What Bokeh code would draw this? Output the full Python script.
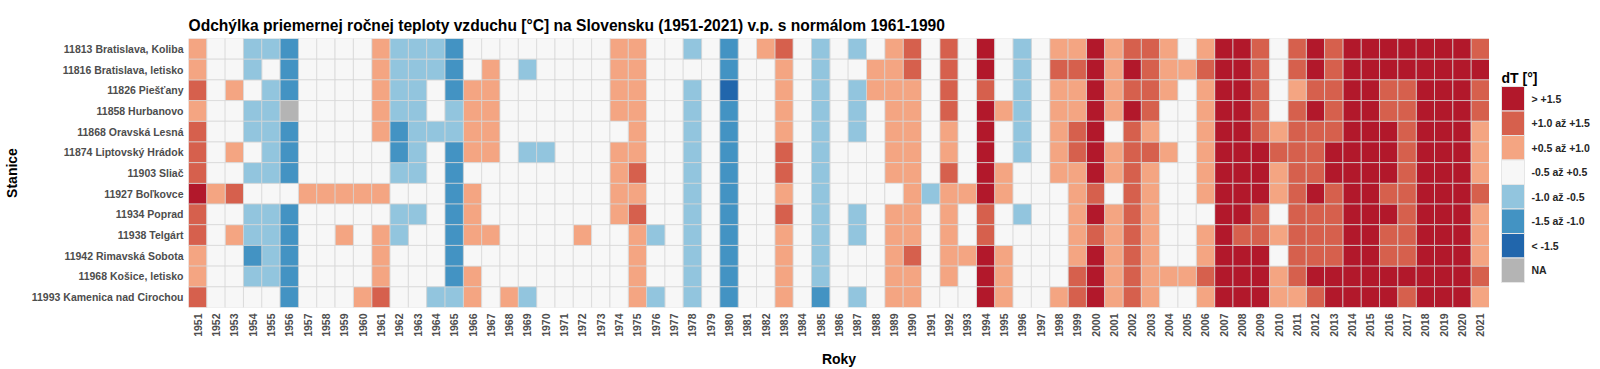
import math
from bokeh.plotting import figure
from bokeh.layouts import row
from bokeh.models import ColumnDataSource, FactorRange, Range1d
from bokeh.core.properties import value
from bokeh.embed import file_html
from bokeh.resources import INLINE

# ---------------- data ----------------
years = [str(y) for y in range(1951, 2022)]

stations = [
    "11813 Bratislava, Koliba",
    "11816 Bratislava, letisko",
    "11826 Piešťany",
    "11858 Hurbanovo",
    "11868 Oravská Lesná",
    "11874 Liptovský Hrádok",
    "11903 Sliač",
    "11927 Boľkovce",
    "11934 Poprad",
    "11938 Telgárt",
    "11942 Rimavská Sobota",
    "11968 Košice, letisko",
    "11993 Kamenica nad Cirochou",
]

# class codes per year 1951..2021: 3 '> +1.5', 2 '+1.0..+1.5', 1 '+0.5..+1.0',
# 0 '-0.5..+0.5', -1 '-1.0..-0.5', -2 '-1.5..-1.0', -3 '< -1.5', None = NA
N = None
bratislava_koliba = [1, 0, 0, -1, -1, -2, 0, 0, 0, 0,
                     1, -1, -1, -1, -2, 0, 0, 0, 0, 0,
                     0, 0, 0, 1, 1, 0, 0, -1, 0, -2,
                     0, 1, 2, 0, -1, 0, -1, 0, 1, 2,
                     0, 2, 0, 3, 0, -1, 0, 1, 1, 3,
                     1, 2, 2, 1, 0, 1, 3, 3, 2, 0,
                     2, 3, 2, 3, 3, 3, 3, 3, 3, 3, 2]
bratislava_letisko = [1, 0, 0, -1, 0, -2, 0, 0, 0, 0,
                      1, -1, -1, -1, -2, 0, 1, 0, -1, 0,
                      0, 0, 0, 1, 1, 0, 0, 0, 0, -2,
                      0, 0, 1, 0, -1, 0, 0, 1, 1, 2,
                      0, 2, 0, 3, 0, -1, 0, 2, 2, 3,
                      1, 3, 2, 1, 1, 2, 3, 3, 2, 0,
                      2, 3, 2, 3, 3, 3, 3, 3, 3, 3, 3]
piestany = [2, 0, 1, 0, -1, -2, 0, 0, 0, 0,
            1, -1, -1, 0, -2, 1, 1, 0, 0, 0,
            0, 0, 0, 1, 1, 0, 0, -1, 0, -3,
            0, 0, 1, 0, -1, 0, -1, 1, 1, 1,
            0, 2, 0, 2, 0, -1, 0, 1, 1, 3,
            1, 2, 2, 1, 0, 1, 3, 3, 2, 0,
            1, 2, 2, 3, 3, 2, 2, 3, 3, 3, 2]
hurbanovo = [1, 0, 0, -1, -1, N, 0, 0, 0, 0,
             1, -1, -1, 0, -1, 1, 1, 0, 0, 0,
             0, 0, 0, 1, 1, 0, 0, -1, 0, -2,
             0, 0, 1, 0, -1, 0, -1, 0, 1, 1,
             0, 2, 0, 3, 1, -1, 0, 1, 1, 3,
             1, 3, 2, 0, 0, 1, 3, 3, 2, 0,
             2, 3, 2, 3, 3, 2, 2, 3, 3, 3, 2]
oravska_lesna = [2, 0, 0, -1, -1, -2, 0, 0, 0, 0,
                 1, -2, -1, -1, -1, 1, 1, 0, 0, 0,
                 0, 0, 0, 0, 1, 0, 0, -1, 0, -2,
                 0, 0, 1, 0, -1, 0, -1, 0, 1, 1,
                 0, 1, 0, 3, 0, -1, 0, 1, 2, 3,
                 0, 2, 1, 0, 0, 1, 3, 3, 2, 1,
                 2, 2, 2, 3, 3, 3, 2, 3, 3, 3, 1]
liptovsky_hradok = [2, 0, 1, 0, -1, -2, 0, 0, 0, 0,
                    0, -2, -1, 0, -2, 1, 1, 0, -1, -1,
                    0, 0, 0, 1, 1, 0, 0, -1, 0, -2,
                    0, 0, 2, 0, -1, 0, 0, 0, 1, 1,
                    0, 1, 0, 3, 0, -1, 0, 1, 2, 3,
                    1, 2, 2, 1, 0, 1, 3, 3, 3, 2,
                    2, 2, 3, 3, 3, 3, 2, 3, 3, 3, 1]
sliac = [2, 0, 0, -1, -1, -2, 0, 0, 0, 0,
         0, -1, -1, 0, -2, 0, 0, 0, 0, 0,
         0, 0, 0, 1, 2, 0, 0, -1, 0, -2,
         0, 0, 2, 0, -1, 0, 0, 0, 1, 1,
         0, 2, 0, 3, 1, 0, 0, 1, 1, 3,
         1, 2, 1, 0, 0, 1, 3, 3, 3, 1,
         2, 2, 3, 3, 3, 3, 2, 3, 3, 3, 1]
bolkovce = [3, 1, 2, 0, 0, 0, 1, 1, 1, 1,
            1, 0, 0, 0, -2, 1, 0, 0, 0, 0,
            0, 0, 0, 1, 1, 0, 0, -1, 0, -2,
            0, 0, 1, 0, -1, 0, 0, 0, 0, 1,
            -1, 1, 1, 3, 1, 0, 0, 0, 1, 2,
            0, 2, 1, 0, 0, 1, 3, 3, 3, 1,
            2, 3, 2, 3, 3, 2, 2, 3, 3, 3, 2]
poprad = [2, 0, 0, -1, -1, -2, 0, 0, 0, 0,
          0, -1, -1, 0, -2, 1, 0, 0, 0, 0,
          0, 0, 0, 1, 2, 0, 0, -1, 0, -2,
          0, 0, 2, 0, -1, 0, -1, 0, 1, 1,
          0, 1, 0, 2, 0, -1, 0, 0, 1, 3,
          1, 2, 1, 0, 0, 0, 3, 3, 2, 0,
          2, 2, 2, 3, 3, 3, 2, 3, 3, 3, 1]
telgart = [2, 0, 1, -1, -1, -2, 0, 0, 1, 0,
           1, -1, 0, 0, -2, 1, 1, 0, 0, 0,
           0, 1, 0, 0, 1, -1, 0, -1, 0, -2,
           0, 0, 1, 0, -1, 0, -1, 0, 1, 1,
           0, 1, 0, 2, 0, 0, 0, 0, 1, 2,
           1, 2, 1, 0, 0, 1, 3, 2, 2, 1,
           2, 2, 2, 3, 3, 2, 2, 3, 3, 3, 1]
rimavska_sobota = [1, 0, 0, -2, -1, -2, 0, 0, 0, 0,
                   1, 0, 0, 0, -2, 0, 0, 0, 0, 0,
                   0, 0, 0, 0, 1, 0, 0, -1, 0, -2,
                   0, 0, 1, 0, -1, 0, 0, 0, 1, 2,
                   0, 1, 1, 3, 1, 0, 0, 0, 1, 3,
                   1, 2, 1, 0, 0, 1, 3, 3, 3, 0,
                   2, 2, 2, 3, 3, 2, 2, 3, 3, 3, 1]
kosice_letisko = [1, 0, 0, -1, -1, -2, 0, 0, 0, 0,
                  1, 0, 0, 0, -2, 1, 0, 0, 0, 0,
                  0, 0, 0, 0, 1, 0, 0, -1, 0, -2,
                  0, 0, 1, 0, -1, 0, 0, 0, 1, 1,
                  0, 1, 0, 3, 1, 0, 0, 0, 2, 3,
                  1, 2, 1, 1, 1, 2, 3, 3, 3, 1,
                  2, 3, 3, 3, 3, 3, 3, 3, 3, 3, 2]
kamenica = [2, 0, 0, 0, 0, -2, 0, 0, 0, 1,
            2, 0, 0, -1, -1, 1, 0, 1, -1, 0,
            0, 0, 0, 0, 1, -1, 0, -1, 0, -2,
            0, 0, 1, 0, -2, 0, -1, 0, 1, 1,
            0, 0, 0, 3, 1, 0, 0, 1, 2, 3,
            1, 2, 1, 0, 0, 1, 3, 3, 3, 1,
            1, 2, 3, 3, 3, 3, 2, 3, 3, 3, 1]

station_rows = [bratislava_koliba, bratislava_letisko, piestany, hurbanovo,
                oravska_lesna, liptovsky_hradok, sliac, bolkovce, poprad,
                telgart, rimavska_sobota, kosice_letisko, kamenica]

class_codes = [3, 2, 1, 0, -1, -2, -3, None]
class_labels = ["> +1.5", "+1.0 až +1.5", "+0.5 až +1.0", "-0.5 až +0.5",
                "-1.0 až -0.5", "-1.5 až -1.0", "< -1.5", "NA"]
class_colors = ["#B2182B", "#D6604D", "#F4A582", "#F7F7F7",
                "#92C5DE", "#4393C3", "#2166AC", "#B4B4B4"]
legend_title = "dT [°]"

# ---------------- main heatmap ----------------
FONT = "Liberation Sans"
CELL_LINE = "#d6d6d6"
TOP, BOTTOM = 38, 62

p = figure(width=1489, height=369,
           x_range=FactorRange(factors=years),
           y_range=FactorRange(factors=stations[::-1]),
           output_backend="svg", toolbar_location=None,
           min_border_left=187, min_border_top=TOP,
           min_border_bottom=BOTTOM, min_border_right=0,
           title="Odchýlka priemernej ročnej teploty vzduchu [°C] na Slovensku (1951-2021) v.p. s normálom 1961-1990")

p.title.text_font = FONT
p.title.text_font_size = "15.6px"
p.title.text_font_style = "bold"
p.title.text_color = "black"
p.title.align = "left"
p.title.offset = 0
p.title.standoff = 10

p.background_fill_color = "white"
p.border_fill_color = "white"
p.outline_line_color = None
p.grid.visible = False

for code, col in zip(class_codes, class_colors):
    xs, ys = [], []
    for st, vals in zip(stations, station_rows):
        for yr, v in zip(years, vals):
            if v == code:
                xs.append(yr)
                ys.append(st)
    src = ColumnDataSource(dict(x=xs, y=ys))
    p.rect(x="x", y="y", width=1, height=1, source=src,
           fill_color=col, line_color=CELL_LINE, line_width=0.7)

for ax in (p.xaxis, p.yaxis):
    ax.axis_line_color = None
    ax.major_tick_line_color = None
    ax.minor_tick_line_color = None
    ax.major_tick_out = 0
    ax.major_tick_in = 0
    ax.minor_tick_out = 0
    ax.major_label_text_font = FONT
    ax.major_label_text_font_size = "10.5px"
    ax.major_label_text_font_style = "bold"
    ax.major_label_text_color = "#4d4d4d"
    ax.axis_label_text_font = FONT
    ax.axis_label_text_font_size = "14px"
    ax.axis_label_text_font_style = "bold"
    ax.axis_label_text_color = "black"

p.xaxis.major_label_orientation = math.pi / 2
p.xaxis.major_label_standoff = 6
p.xaxis.axis_label = "Roky"
p.xaxis.axis_label_standoff = 11
p.yaxis.major_label_standoff = 5
p.yaxis.axis_label = "Stanice"
p.yaxis.axis_label_standoff = 9

# ---------------- colour key (legend) ----------------
# key frame shares the heatmap's top/bottom borders; one key unit = one swatch
n = len(class_labels)
lf = figure(width=111, height=369,
            x_range=Range1d(0, 111), y_range=Range1d(-1.52, n + 1.46),
            x_axis_location=None, y_axis_location=None,
            output_backend="svg", toolbar_location=None,
            min_border_left=0, min_border_right=0,
            min_border_top=TOP, min_border_bottom=BOTTOM)
lf.background_fill_color = "white"
lf.border_fill_color = "white"
lf.outline_line_color = None
lf.grid.visible = False

key_pos = [n - 1 - i for i in range(n)]
ksrc = ColumnDataSource(dict(y=key_pos, c=class_colors, t=class_labels))
lf.rect(x=23.5, y="y", width=23, height=1, source=ksrc,
        fill_color="c", line_color="#e6e6e6", line_width=1)
lf.text(x=42, y="y", text="t", source=ksrc,
        text_font=value(FONT), text_font_size="10.5px",
        text_font_style="bold", text_color="#262626",
        text_baseline="middle", text_align="left")
lf.text(x=[12], y=[n - 0.17], text=[legend_title],
        text_font=value(FONT), text_font_size="14px",
        text_font_style="bold", text_color="black",
        text_baseline="alphabetic", text_align="left")

layout = row(p, lf, spacing=0)

open("out.html", "w").write(file_html(layout, INLINE))
